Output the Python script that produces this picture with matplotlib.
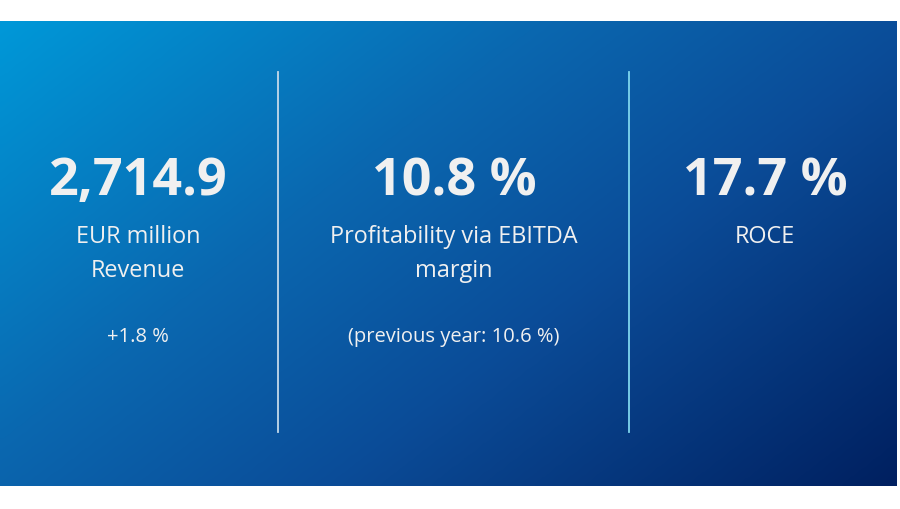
import numpy as np
import matplotlib
matplotlib.use("Agg")
import matplotlib.pyplot as plt
from matplotlib.colors import LinearSegmentedColormap

plt.rcParams['font.family'] = ['Open Sans', 'Noto Sans', 'DejaVu Sans']

# KPI values
kpi_values = ["2,714.9", "10.8 %", "17.7 %"]
kpi_labels = [["EUR million", "Revenue"],
              ["Profitability via EBITDA", "margin"],
              ["ROCE"]]
kpi_notes = ["+1.8 %", "(previous year: 10.6 %)", ""]

col_x = [138, 454, 765]
divider_x = [278, 629]
divider_colors = ["#c4d9ea", "#7fd6ee"]

fig = plt.figure(figsize=(9, 5.09), dpi=100)
ax = fig.add_axes([0, 0, 1, 1])
ax.set_xlim(0, 900)
ax.set_ylim(509, 0)
ax.axis('off')

# gradient card background
left, right, top, bottom = 0, 897, 21, 486
nx, ny = 300, 160
xx, yy = np.meshgrid(np.linspace(0, 1, nx), np.linspace(0, 1, ny))
t = 0.6 * xx + 0.4 * yy
cmap = LinearSegmentedColormap.from_list(
    "card", [(0, "#0098d8"), (0.36, "#0a68b0"), (0.62, "#0b4c98"), (1, "#002060")])
ax.imshow(t, cmap=cmap, extent=[left, right, bottom, top],
          aspect='auto', interpolation='bicubic', zorder=0)

for x, c in zip(divider_x, divider_colors):
    ax.plot([x, x], [72, 432], color=c, lw=1.3, zorder=2)

txt = "#f0f0f0"
for x, val, labels, note in zip(col_x, kpi_values, kpi_labels, kpi_notes):
    ax.text(x, 182, val, ha='center', va='center', fontsize=37.5,
            fontweight='bold', color=txt, zorder=3)
    for i, lab in enumerate(labels):
        ax.text(x, 237 + 34 * i, lab, ha='center', va='center',
                fontsize=16.9, color=txt, zorder=3)
    if note:
        ax.text(x, 337, note, ha='center', va='center', fontsize=14.5,
                color=txt, zorder=3)

fig.savefig("out.png", dpi=100, facecolor="white")
